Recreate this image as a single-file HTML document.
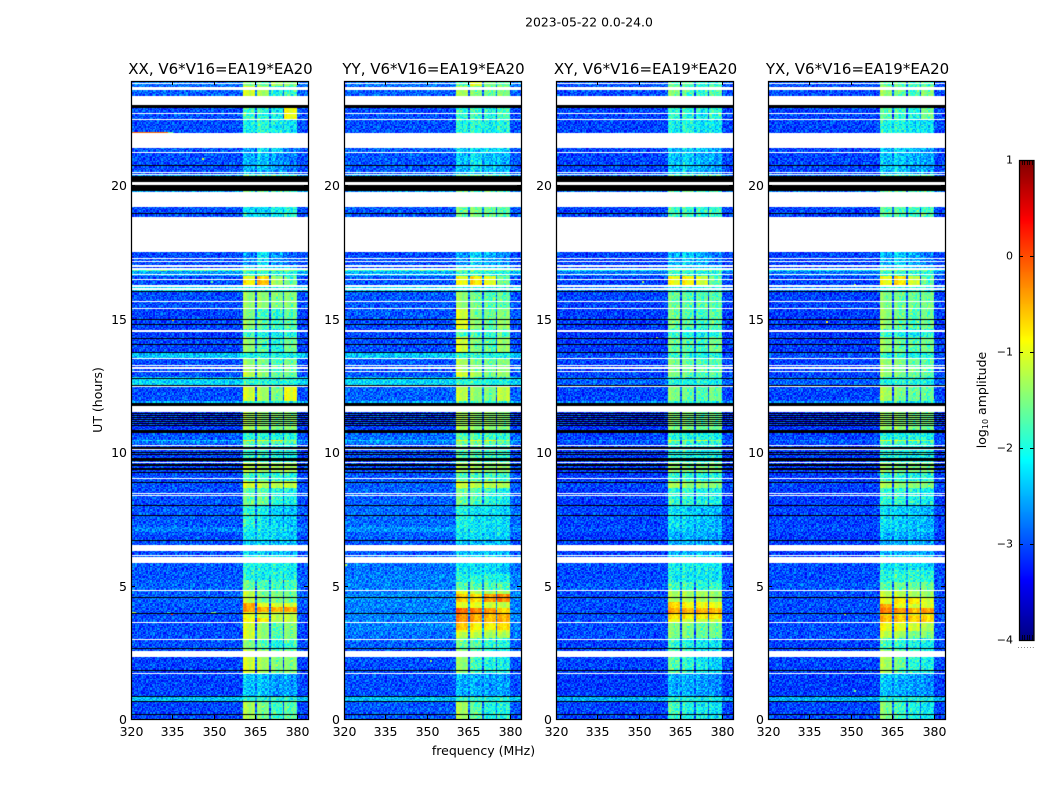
<!DOCTYPE html>
<html lang="en">
<head>
<meta charset="utf-8">
<title>2023-05-22 0.0-24.0</title>
<style>
html,body{margin:0;padding:0;background:#fff;}
#figure{position:relative;width:1050px;height:800px;overflow:hidden;background:#fff;}
canvas{position:absolute;display:block;}
#overlay{position:absolute;left:0;top:0;}
text{font-family:"DejaVu Sans","Liberation Sans",sans-serif;fill:#000;}
</style>
</head>
<body>
<div id="figure">
  <canvas id="hm0"></canvas>
  <canvas id="hm1"></canvas>
  <canvas id="hm2"></canvas>
  <canvas id="hm3"></canvas>
  <canvas id="cb"></canvas>
  <svg id="overlay" width="1050" height="800" xmlns="http://www.w3.org/2000/svg">
    <text x="589" y="26.5" text-anchor="middle" font-size="12.4">2023-05-22 0.0-24.0</text>
    <text x="483.5" y="755" text-anchor="middle" font-size="12.5">frequency (MHz)</text>
    <text transform="translate(102,400) rotate(-90)" text-anchor="middle" font-size="12.5">UT (hours)</text>
    <text transform="translate(986,400) rotate(-90)" text-anchor="middle" font-size="12.5">log<tspan font-size="8" dy="2">10</tspan><tspan dy="-2"> amplitude</tspan></text>
    <text x="1026.5" y="648" text-anchor="middle" font-size="6" fill="#888" letter-spacing="1">......</text>
  </svg>
</div>
<script>
/* ---------- chart data (hours, MHz, log10 amplitude) ---------- */
const panelTitles = ["XX, V6*V16=EA19*EA20","YY, V6*V16=EA19*EA20","XY, V6*V16=EA19*EA20","YX, V6*V16=EA19*EA20"];
const freqTicks = [320,335,350,365,380];
const hourTicks = [0,5,10,15,20];
const colorTicks = [1,0,-1,-2,-3,-4];
const freqMin = 320, freqMax = 384, hourMax = 23.9, channelWidth = 0.5, rowStep = 0.05;
const colorMin = -4, colorMax = 1;
const subBands = [[360.4,365.2],[365.7,370.2],[370.6,375.2],[375.7,380]];
const bandRipple = [0.1,0.15,0.05,0,-0.1,-0.1,-0.05,0.05,0.1,0];

/* [start hour, background, band1, band2, band3, band4] */
const levelsXX = [
[0,-3.05,-1.3,-1.5,-1.8,-1.7],[0.65,-2.4,-1.9,-1.9,-2,-2],[0.85,-3.05,-2.4,-2.4,-2.6,-2.6],[1.7,-3.05,-1.1,-1.3,-1.5,-1.5],
[2.62,-3,-1.5,-1.7,-2,-1.8],[3,-3,-1.1,-1.4,-1.7,-1.5],[3.6,-3,-0.9,-0.8,-1.2,-1.2],[3.78,-3,-1,-1.1,-1.2,-1.2],[4,-2.95,-0.4,-0.45,-0.5,-0.45],
[4.2,-2.95,-0.45,-1,-1.1,-1.1],[4.35,-2.9,-1.2,-1.5,-1.5,-1.6],[4.83,-2.9,-1.6,-1.8,-1.8,-1.8],[5.2,-2.95,-2,-2.1,-2,-2.1],
[6.1,-3,-2.3,-2.3,-2.4,-2.5],[6.7,-3,-2.2,-2.2,-2.3,-2.4],[7,-2.75,-2.1,-2.1,-2.2,-2.3],[7.2,-2.95,-1.9,-2.1,-2.3,-2.4],
[8,-3,-1.6,-1.6,-1.9,-2.1],[8.4,-3,-1.7,-1.7,-2,-2.1],[8.67,-3,-1.1,-1.2,-1.2,-1.2],[8.88,-3,-1.8,-1.8,-1.9,-2],
[9.25,-3.05,-1.2,-1.3,-1.3,-1.3],[9.6,-3.05,-1.9,-1.9,-2,-2.1],[10.28,-2.8,-1.6,-1.6,-1.7,-1.8],[10.41,-2.4,-0.8,-1,-0.8,-1.5],
[10.47,-2.95,-1.9,-1.9,-2,-2],[10.72,-3.1,-1.3,-1.4,-1.5,-1.5],[11.73,-2.5,-1.9,-1.9,-2,-2],[11.9,-3,-1.1,-1.3,-1.5,-1],
[12.5,-2.3,-1.9,-1.9,-2,-2],[12.78,-3,-1.2,-1.4,-1.6,-1.6],[13,-3,-1.4,-1.5,-1.7,-1.6],[13.5,-2.4,-2,-2,-2,-2.1],
[13.75,-3.05,-1.4,-1.7,-2,-1.6],[14.3,-3.1,-1.9,-2,-2.1,-2],[14.6,-3.05,-1.4,-1.6,-1.8,-1.7],[15,-3.05,-1.5,-1.8,-1.9,-1.7],
[15.4,-3,-1.4,-1.4,-1.5,-1.5],[16,-2.3,-2,-2,-2,-2.1],[16.24,-3,-0.85,-0.55,-1.3,-1.6],[16.45,-3,-1,-0.7,-1.4,-1.8],
[16.62,-2.6,-1.9,-1.9,-2,-2],[16.78,-1.7,-1.4,-1.4,-1.4,-1.5],[16.83,-3,-2.2,-2.2,-2.3,-2.4],[17,-3,-2.7,-2.2,-2.6,-2.9],
[18.81,-3,-2.2,-2.3,-2.1,-2],[19.75,-2.6,-1.6,-1.7,-1.7,-1.8],[20.4,-3,-2.5,-2.4,-2.6,-2.8],[21.24,-2.95,-2.6,-2.2,-2.3,-2.8],
[21.96,-3,-2.1,-1.9,-2.1,-2.2],[22.43,-3,-1.8,-1.9,-2.1,-0.95],[23.34,-2.9,-1.1,-1.3,-2,-1.9],[23.68,-2.8,-1.5,-1.6,-1.3,-1.5]
];
const levelsYY = [
[0,-2.95,-1.3,-1.7,-2,-2],[0.65,-2.4,-1.9,-1.9,-2,-2],[0.85,-3,-2.5,-2.5,-2.6,-2.6],[1.7,-3,-1.4,-1.8,-2,-2.1],
[2.62,-2.9,-1.6,-1.7,-1.9,-2],[3.03,-2.8,-1.2,-1.2,-1.3,-1.3],[3.26,-2.8,-0.95,-1,-1.2,-1.1],[3.37,-2.75,-0.6,-0.85,-0.85,-0.75],
[3.63,-2.75,-0.35,-0.45,-0.55,-0.5],[3.97,-2.75,-0.15,-0.25,-0.35,-0.7],[4.16,-2.75,-1,-1,-1.1,-1.2],[4.38,-2.7,-0.6,-0.7,-0.4,-0.3],
[4.72,-2.75,-1,-1.2,-1.3,-1.3],[4.83,-2.75,-1.7,-1.7,-1.7,-1.8],[5.13,-2.75,-2,-2,-2,-2.1],[5.47,-2.8,-2.2,-2.2,-2.2,-2.4],
[6.1,-2.95,-2.4,-2.4,-2.4,-2.5],[6.7,-2.9,-2.2,-2.2,-2.3,-2.3],[7,-2.65,-2.1,-2.1,-2.2,-2.2],[7.2,-2.85,-2,-2.2,-2.2,-2.3],
[8,-2.9,-1.6,-1.7,-1.9,-2.1],[8.67,-2.9,-1.1,-1.2,-1.2,-1.3],[8.88,-2.95,-1.7,-1.8,-1.8,-1.9],[9.25,-3,-1.3,-1.3,-1.4,-1.4],
[9.6,-3,-1.7,-1.7,-1.8,-1.9],[10.28,-2.75,-1.5,-1.5,-1.6,-1.7],[10.41,-2.4,-0.9,-1,-0.8,-1.3],[10.47,-2.85,-1.7,-1.7,-1.8,-1.9],
[10.72,-3.05,-1.3,-1.4,-1.4,-1.5],[11.73,-2.5,-1.8,-1.8,-1.9,-2],[11.9,-2.9,-1.2,-1.4,-1.5,-1.2],[12.5,-2.3,-1.9,-1.9,-2,-2],
[12.78,-2.95,-1.1,-1.3,-1.5,-1.4],[13,-2.95,-1.3,-1.5,-1.6,-1.5],[13.5,-2.4,-1.9,-1.9,-2,-2],[13.75,-3,-1.1,-1.5,-1.7,-1.4],
[14.3,-3.05,-1.7,-1.8,-1.9,-1.8],[14.6,-3,-1,-1.4,-1.6,-1.4],[15,-2.95,-1.1,-1.5,-1.6,-1.5],[15.4,-2.95,-1.4,-1.6,-1.7,-1.7],
[16,-2.3,-2,-2,-2,-2.1],[16.24,-2.95,-0.95,-0.75,-1,-1.6],[16.62,-2.5,-1.9,-1.9,-2,-2],[16.78,-1.8,-1.5,-1.5,-1.5,-1.6],
[16.83,-3,-2.2,-2.2,-2.3,-2.4],[17,-3,-2.6,-2.3,-2.5,-2.7],[18.81,-2.95,-1.6,-1.5,-1.6,-1.7],[19.75,-2.6,-1.6,-1.7,-1.7,-1.8],
[20.4,-2.95,-2.4,-2.2,-2.4,-2.5],[21.24,-2.9,-2.3,-2.3,-2.2,-2.3],[21.96,-3,-2,-1.9,-2.1,-2],[22.43,-3,-1.9,-1.8,-2,-1.8],
[23.34,-2.9,-1.3,-1.5,-1.6,-1.5],[23.68,-2.8,-1.8,-1,-1.5,-1.7]
];
const levelsXY = [
[0,-3.05,-1.8,-2,-2.1,-2.2],[0.65,-2.5,-2,-2,-2.1,-2.1],[0.85,-3.1,-2.5,-2.5,-2.6,-2.7],[1.7,-3.05,-1.7,-1.9,-2.1,-2.3],
[2.62,-3.05,-1.9,-2,-2.1,-2.2],[3.03,-3,-1.5,-1.5,-1.6,-1.6],[3.6,-3,-1,-1.1,-1.2,-1.2],[3.75,-3,-0.75,-0.8,-0.8,-0.8],
[3.97,-3,-0.45,-0.5,-0.5,-0.55],[4.16,-3,-0.7,-0.9,-0.9,-1],[4.38,-3,-1.3,-1.3,-1.3,-1.4],[4.83,-2.95,-1.8,-1.8,-1.9,-1.9],[5.13,-3,-2.1,-2.1,-2.1,-2.2],
[6.1,-3.1,-2.5,-2.5,-2.5,-2.6],[7,-3,-2.3,-2.3,-2.4,-2.4],[7.2,-3.05,-2.2,-2.3,-2.4,-2.5],[8,-3.1,-1.9,-1.9,-2,-2.1],
[8.67,-3.05,-1.3,-1.4,-1.4,-1.5],[8.88,-3.1,-1.9,-1.9,-2,-2],[9.25,-3.1,-1.4,-1.5,-1.5,-1.5],[9.6,-3.1,-2,-2,-2.1,-2.1],
[10.28,-3,-1.8,-1.8,-1.9,-1.9],[10.41,-2.8,-1.1,-1.2,-1.1,-1.5],[10.47,-3.05,-2,-2,-2,-2.1],[10.72,-3.15,-1.5,-1.5,-1.6,-1.6],
[11.73,-2.7,-2,-2,-2.1,-2.1],[11.9,-3.05,-1.5,-1.6,-1.7,-1.6],[12.5,-2.9,-2,-2,-2,-2.1],[12.78,-3.05,-1.5,-1.6,-1.7,-1.7],
[13.5,-3,-1.9,-1.9,-2,-2],[13.75,-3.1,-1.6,-1.7,-1.8,-1.6],[14.3,-3.15,-1.9,-2,-2.1,-2],[14.6,-3.1,-1.6,-1.7,-1.8,-1.7],
[15.4,-3.05,-1.6,-1.7,-1.7,-1.7],[16,-2.8,-2,-2,-2,-2.1],[16.24,-3.05,-0.95,-0.85,-1.1,-1.7],[16.62,-2.8,-1.9,-1.9,-2,-2],
[16.78,-2.2,-1.6,-1.6,-1.6,-1.7],[16.83,-3.05,-2.3,-2.3,-2.4,-2.4],[17,-3.05,-2.5,-2.3,-2.5,-2.8],[18.81,-3.05,-1.8,-1.8,-1.9,-1.9],
[19.75,-2.8,-1.7,-1.7,-1.8,-1.8],[20.4,-3.05,-2.4,-2.3,-2.5,-2.6],[21.24,-3.05,-2.4,-2.3,-2.4,-2.6],[21.96,-3.05,-2.1,-2,-2.2,-2.2],
[22.43,-3.05,-1.9,-1.9,-2.1,-1.9],[23.34,-3,-1.5,-1.7,-1.9,-1.7],[23.68,-2.95,-1.7,-1.7,-1.9,-1.9]
];
const levelsYX = [
[0,-3.05,-1.5,-1.8,-2,-2.2],[0.65,-2.5,-2,-2,-2.1,-2.1],[0.85,-3.1,-2.4,-2.5,-2.6,-2.7],[1.7,-3.05,-1.3,-1.6,-1.9,-2.1],
[2.62,-3.05,-1.8,-1.9,-2,-2.1],[3.03,-3,-1.2,-1.3,-1.5,-1.5],[3.3,-3,-0.95,-1,-1.1,-1.3],[3.63,-3,-0.55,-0.6,-0.65,-0.7],
[3.9,-3,-0.95,-1,-1.1,-1.1],[3.97,-3,-0.25,-0.35,-0.55,-0.4],[4.16,-3,-0.45,-1,-1.1,-1.1],[4.3,-3,-1,-0.8,-0.8,-1.1],[4.53,-3,-1.2,-1.2,-1.3,-1.4],
[4.83,-2.95,-1.7,-1.6,-1.6,-1.6],[5.13,-3,-2,-1.9,-1.9,-2],[5.6,-3,-2.2,-2.2,-2.2,-2.3],[6.1,-3.1,-2.5,-2.5,-2.5,-2.6],
[7,-3,-2.3,-2.3,-2.4,-2.4],[7.2,-3.05,-2.2,-2.3,-2.4,-2.5],[8,-3.1,-1.9,-1.9,-2,-2.1],[8.67,-3.05,-1.3,-1.4,-1.4,-1.5],
[8.88,-3.1,-1.9,-1.9,-2,-2],[9.25,-3.1,-1.4,-1.5,-1.5,-1.5],[9.6,-3.1,-2,-2,-2.1,-2.1],[10.28,-3,-1.7,-1.7,-1.8,-1.9],
[10.41,-2.8,-1,-1.1,-1,-1.4],[10.47,-3.05,-2,-2,-2,-2.1],[10.72,-3.15,-1.4,-1.4,-1.5,-1.6],[11.73,-2.7,-2,-2,-2.1,-2.1],
[11.9,-3.05,-1.3,-1.5,-1.6,-1.7],[12.5,-2.9,-2,-2,-2,-2.1],[12.78,-3.05,-1.4,-1.5,-1.6,-1.7],[13.5,-3,-1.9,-1.9,-2,-2],
[13.75,-3.1,-1.4,-1.6,-1.7,-1.6],[14.3,-3.15,-1.9,-2,-2.1,-2],[14.6,-3.1,-1.4,-1.6,-1.7,-1.6],[15.4,-3.05,-1.5,-1.6,-1.6,-1.6],
[16,-2.8,-2,-2,-2,-2.1],[16.24,-3.05,-0.95,-0.75,-1.1,-1.7],[16.62,-2.8,-1.9,-1.9,-2,-2],[16.78,-2.2,-1.6,-1.6,-1.6,-1.7],
[16.83,-3.05,-2.3,-2.3,-2.4,-2.4],[17,-3.05,-2.5,-2.3,-2.5,-2.8],[18.81,-3.05,-1.7,-1.7,-1.8,-1.8],[19.75,-2.8,-1.7,-1.7,-1.8,-1.8],
[20.4,-3.05,-2.4,-2.3,-2.5,-2.6],[21.24,-3.05,-2.4,-2.3,-2.4,-2.6],[21.96,-3.05,-2,-2,-2.2,-2.2],[22.43,-3.05,-1.7,-1.8,-2,-1.6],
[23.34,-3,-1.4,-1.6,-1.8,-1.5],[23.68,-2.95,-1.6,-1.6,-1.8,-1.8]
];
const panelLevels = [levelsXX,levelsYY,levelsXY,levelsYX];

/* flagged time ranges [from hour, to hour], shared by all four products */
const flaggedRanges = [[23.8,23.84],[23.57,23.68],[23,23.34],[22.67,22.7],[22.43,22.48],[21.39,21.96],[21.19,21.24],[20.46,20.49],[20.36,20.4],[20.01,20.12],[19.18,19.75],[17.5,18.81],[17.23,17.27],[17.12,17.16],[16.94,17.01],[16.83,16.88],[16.62,16.67],[16.45,16.49],[16.19,16.24],[16.07,16.15],[15.62,15.66],[15.36,15.4],[14.51,14.57],[13.49,13.53],[13.23,13.26],[13.13,13.17],[13,13.04],[12.44,12.5],[11.5,11.73],[10.23,10.27],[10.08,10.12],[9.6,9.64],[8.99,9.03],[8.43,8.46],[8.37,8.39],[6.29,6.52],[6.11,6.14],[5.83,6.05],[4.8,4.83],[3.6,3.63],[2.96,3],[2.32,2.55],[1.69,1.72]];
/* time ranges with no signal (drawn black) */
const blankRanges = [[22.89,23],[20.71,20.74],[20.12,20.34],[19.78,20.01],[18.94,18.97],[15.99,16.02],[14.93,14.97],[14.78,14.81],[14.25,14.29],[14,14.04],[13.72,13.76],[12.74,12.78],[12.5,12.53],[11.74,11.84],[11.42,11.45],[11.34,11.37],[11.27,11.3],[11.19,11.22],[11.13,11.16],[11.07,11.1],[10.98,11.01],[10.72,10.83],[10.17,10.2],[10.13,10.15],[9.98,10.0],[9.9,9.92],[9.67,9.78],[9.54,9.57],[9.47,9.5],[9.39,9.42],[9.32,9.35],[9.24,9.27],[8.85,8.88],[7.99,8.03],[7.61,7.64],[6.67,6.71],[4.53,4.57],[3.95,3.98],[2.62,2.66],[1.83,1.85],[0.82,0.86],[0.63,0.66],[0.15,0.19]];
/* narrow interference rows [panel, hour, from MHz, to MHz, value] */
const hotRows = [[0,21.95,320.5,333.5,-0.15],[0,21.95,333.5,335,-1.6],[0,3.98,320,321.5,-1.2],[0,3.98,333,334,-1.9],[0,3.98,349,350.5,-1.5]];
/* single bright channels [panel, hour, MHz, value] */
const hotCells = [[0,3.98,334.5,0.05],[0,21.0,345.5,-1],[0,16.4,349,-1.6],[0,15.0,335,-0.6],[1,5.8,320.5,-1.1],[1,2.2,351,-1.4],[3,3.98,347.5,-1.2],[3,16.3,351,-1.2],[3,14.9,341,-0.9],[3,1.1,351,-1.5],[2,16.4,351,-1.3],[2,14.3,356,-1.3]];
/* hand-typed grain tile (0-9) giving cell-to-cell texture */
const grainTile = [
"3718260945173820649152738046173",
"8250617394826150739428165037294",
"1694382750164938270516482937105",
"6037915248307561924830175642098",
"2981460375928146057392846105738",
"7423096185640729318564027193846",
"0569738241957360482917350628419",
"4816205973482091576340829157362",
"9250741638195724036851942607385",
"3647092815260839175420683974150",
"7189536402748156930762415083296",
"1502864739016482375948106723584",
"8346917025593760184235790416827",
"2970483615824139607581342960175",
"5618320794076253849106725384901",
"9043768152439817062574908136245",
"3785019426158694237065183972460",
"6129485370942051786349021758634",
"0874236915367408195723640981527",
"4591708263810976352481756204398",
"8236594107285361940817392465071",
"1760348952694820573196048237615",
"5408172639041573968205417683920"
];

/* ---------- layout ---------- */
const panelLefts = [131,344,556,768];
const plotW = 177, plotH = 638, plotTop = 81;
const cbX = 1019, cbW = 15, cbTop = 160, cbH = 480;
const svgNS = "http://www.w3.org/2000/svg";
const overlay = document.getElementById("overlay");

function xRel(mhz){return (mhz-freqMin)/(freqMax-freqMin)*plotW;}
function yRel(h){return (hourMax-h)/hourMax*plotH;}
function cbY(v){return cbTop+(colorMax-v)/(colorMax-colorMin)*cbH;}
function clamp01(v){return Math.max(0,Math.min(1,v));}
function jet(v){
  const f=clamp01((v-colorMin)/(colorMax-colorMin));
  const r=clamp01(1.5-Math.abs(4*f-3)),g=clamp01(1.5-Math.abs(4*f-2)),b=clamp01(1.5-Math.abs(4*f-1));
  return "rgb("+Math.round(r*255)+","+Math.round(g*255)+","+Math.round(b*255)+")";
}
function levelAt(levels,h){
  let row=levels[0];
  for(const l of levels){ if(l[0]<=h) row=l; else break; }
  return row;
}
function cellValue(row,mhz){
  for(let i=0;i<subBands.length;i++){
    const b=subBands[i];
    if(mhz>=b[0]&&mhz<b[1]){
      const k=Math.min(bandRipple.length-1,Math.floor((mhz-b[0])/(b[1]-b[0])*bandRipple.length));
      return row[i+2]+bandRipple[k];
    }
  }
  if(mhz>=subBands[0][0]&&mhz<subBands[3][1]){
    return row[2]<-1.9 ? row[2]-0.3 : row[1]+0.1;
  }
  return row[1];
}
function svgEl(tag,attrs,txt){
  const e=document.createElementNS(svgNS,tag);
  for(const k in attrs) e.setAttribute(k,attrs[k]);
  if(txt!==undefined) e.textContent=txt;
  overlay.appendChild(e);
  return e;
}
function fmtColor(v){return v<0?"\u2212"+Math.abs(v):String(v);}

function fillRange(ctx,lo,hi,color){
  const y0=Math.round(yRel(hi)),y1=Math.round(yRel(lo));
  ctx.fillStyle=color;
  ctx.fillRect(0,y0,plotW,Math.max(1,y1-y0));
}

function drawPanel(p){
  const cv=document.getElementById("hm"+p);
  cv.width=plotW;cv.height=plotH;
  cv.style.left=panelLefts[p]+"px";cv.style.top=plotTop+"px";
  const ctx=cv.getContext("2d");
  ctx.fillStyle="#fff";ctx.fillRect(0,0,plotW,plotH);
  const levels=panelLevels[p];
  const nRows=Math.ceil(hourMax/rowStep),nCh=Math.round((freqMax-freqMin)/channelWidth);
  const gh=grainTile.length,gw=grainTile[0].length;
  for(let r=0;r<nRows;r++){
    const hLo=r*rowStep,hHi=hLo+rowStep,row=levelAt(levels,hLo+rowStep/2);
    const y0=Math.round(yRel(hHi)),y1=Math.round(yRel(hLo));
    for(let c=0;c<nCh;c++){
      const m=freqMin+c*channelWidth;
      const x0=Math.round(xRel(m)),x1=Math.round(xRel(m+channelWidth));
      const g=+grainTile[(r+p*7+(c>>3)*3)%gh][(c+p*5+(r>>4)*11)%gw];
      const base=cellValue(row,m+channelWidth/2);
      const amp=base>-1.6?0.03:0.095;
      ctx.fillStyle=jet(base+(g-4.5)*amp);
      ctx.fillRect(x0,y0,x1-x0,Math.max(1,y1-y0));
    }
  }
  for(const t of hotRows){
    if(t[0]!==p) continue;
    const y0=Math.round(yRel(t[1]+rowStep/2));
    for(let m=t[2];m<t[3];m+=channelWidth){
      ctx.fillStyle=jet(t[4]);
      ctx.fillRect(Math.round(xRel(m)),y0,2,1);
    }
  }
  for(const t of hotCells){
    if(t[0]!==p) continue;
    ctx.fillStyle=jet(t[3]);
    ctx.fillRect(Math.round(xRel(t[2])),Math.round(yRel(t[1])),2,2);
  }
  for(const f of flaggedRanges) fillRange(ctx,f[0],f[1],"#fff");
  for(const f of blankRanges) fillRange(ctx,f[0],f[1],"#000");
}

function drawAxes(p){
  const L=panelLefts[p],T=plotTop,tag=["xx","yy","xy","yx"][p];
  const frame=svgEl("rect",{x:L+0.5,y:T+0.5,width:plotW,height:plotH,fill:"none",stroke:"#000","stroke-width":1.25});
  
  
  const title=svgEl("text",{x:L+plotW/2+1,y:T-7,"text-anchor":"middle","font-size":15},panelTitles[p]);
  
  
  for(const t of freqTicks){
    const x=Math.round(L+xRel(t))+0.5;
    const a=svgEl("line",{x1:x,x2:x,y1:T+plotH,y2:T+plotH-4,stroke:"#000"});
    
    
    const b=svgEl("line",{x1:x,x2:x,y1:T,y2:T+4,stroke:"#000"});
    
    
    const l=svgEl("text",{x:x,y:T+plotH+17,"text-anchor":"middle","font-size":12.5},String(t));
    
    
  }
  for(const t of hourTicks){
    const y=Math.round(T+yRel(t))+0.5;
    const a=svgEl("line",{x1:L,x2:L+4,y1:y,y2:y,stroke:"#000"});
    
    
    const b=svgEl("line",{x1:L+plotW,x2:L+plotW-4,y1:y,y2:y,stroke:"#000"});
    
    
    const l=svgEl("text",{x:L-4,y:y+4.5,"text-anchor":"end","font-size":12.5},String(t));
    
    
  }
}

function drawColorbar(){
  const cv=document.getElementById("cb");
  cv.width=cbW;cv.height=cbH;
  cv.style.left=cbX+"px";cv.style.top=cbTop+"px";
  const ctx=cv.getContext("2d");
  for(let y=0;y<cbH;y++){
    ctx.fillStyle=jet(colorMax-(y+0.5)/cbH*(colorMax-colorMin));
    ctx.fillRect(0,y,cbW,1);
  }
  const frame=svgEl("rect",{x:cbX+0.5,y:cbTop+0.5,width:cbW-0.5,height:cbH,fill:"none",stroke:"#000","stroke-width":1.25});
  
  
  for(const t of colorTicks){
    const y=Math.round(cbY(t))+0.5;
    if(t!==colorMax&&t!==colorMin){
      const a=svgEl("line",{x1:cbX,x2:cbX+4,y1:y,y2:y,stroke:"#000"});
      
      
      const b=svgEl("line",{x1:cbX+cbW,x2:cbX+cbW-4,y1:y,y2:y,stroke:"#000"});
      
      
    }
    const l=svgEl("text",{x:cbX-6,y:y+3,"text-anchor":"end","font-size":11},fmtColor(t));
    
    
  }
  for(let i=1;i<=5;i++){
    const x=cbX+Math.round(i*cbW/6)+0.5;
    const a=svgEl("line",{x1:x,x2:x,y1:cbTop,y2:cbTop+5,stroke:"#000","stroke-opacity":0.8});
    
    
    const b=svgEl("line",{x1:x,x2:x,y1:cbTop+cbH,y2:cbTop+cbH-5,stroke:"#000","stroke-opacity":0.8});
    
    
  }
}

for(let p=0;p<4;p++){drawPanel(p);drawAxes(p);}
drawColorbar();
</script>
</body>
</html>
